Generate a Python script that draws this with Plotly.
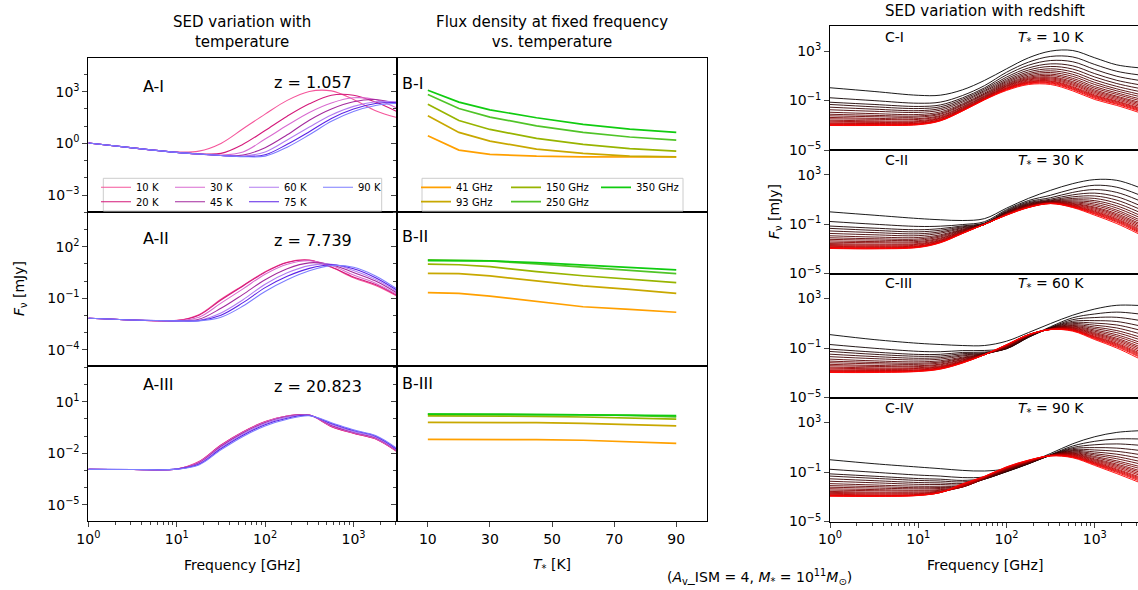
import plotly.graph_objects as go

W, H = 1138, 590
FONT = "DejaVu Sans"

# ---------------- data ----------------
FREQ_GHZ = [1.0, 3.162, 10.0, 17.78, 31.62, 56.23, 100.0, 177.8, 316.2, 562.3, 1000.0, 1778.0, 3090.0]

TEMP_LABELS = ["10 K", "20 K", "30 K", "45 K", "60 K", "75 K", "90 K"]
TEMPS_K = [10, 20, 30, 45, 60, 75, 90]
A_TITLES = ["A-I", "A-II", "A-III"]
A_REDSHIFTS = ["z = 1.057", "z = 7.739", "z = 20.823"]

# log10(F_nu / mJy), one row per temperature, columns follow FREQ_GHZ
A1_LOG_FLUX = [
    [0.02, -0.26, -0.50, -0.45, 0.00, 0.85, 1.70, 2.50, 3.02, 3.05, 2.55, 1.90, 1.50],
    [0.02, -0.26, -0.52, -0.60, -0.58, -0.05, 0.75, 1.58, 2.30, 2.80, 2.80, 2.40, 1.85],
    [0.02, -0.26, -0.52, -0.62, -0.68, -0.50, 0.25, 1.05, 1.80, 2.35, 2.65, 2.55, 2.05],
    [0.02, -0.26, -0.52, -0.62, -0.70, -0.68, -0.25, 0.50, 1.35, 2.00, 2.42, 2.55, 2.30],
    [0.02, -0.26, -0.52, -0.62, -0.70, -0.74, -0.50, 0.20, 0.95, 1.65, 2.15, 2.42, 2.42],
    [0.02, -0.26, -0.52, -0.62, -0.70, -0.76, -0.66, -0.05, 0.68, 1.45, 2.00, 2.32, 2.38],
    [0.02, -0.26, -0.52, -0.62, -0.70, -0.77, -0.74, -0.22, 0.50, 1.28, 1.85, 2.20, 2.33],
]
A2_LOG_FLUX = [
    [-2.16, -2.26, -2.28, -1.95, -1.05, -0.25, 0.55, 1.10, 1.22, 0.80, 0.20, -0.25, -0.86],
    [-2.16, -2.26, -2.29, -1.98, -1.10, -0.28, 0.52, 1.08, 1.21, 0.82, 0.24, -0.20, -0.82],
    [-2.16, -2.26, -2.30, -2.10, -1.28, -0.45, 0.40, 0.98, 1.18, 0.90, 0.35, -0.12, -0.76],
    [-2.16, -2.26, -2.31, -2.22, -1.58, -0.77, 0.08, 0.72, 1.06, 0.95, 0.50, 0.00, -0.68],
    [-2.16, -2.26, -2.31, -2.28, -1.85, -1.08, -0.18, 0.48, 0.90, 0.98, 0.62, 0.10, -0.60],
    [-2.16, -2.26, -2.31, -2.30, -1.98, -1.25, -0.38, 0.28, 0.74, 0.95, 0.72, 0.20, -0.52],
    [-2.16, -2.26, -2.31, -2.31, -2.10, -1.45, -0.60, 0.08, 0.60, 0.90, 0.80, 0.30, -0.45],
]
A3_LOG_FLUX = [
    [-2.93, -2.94, -2.91, -2.48, -1.51, -0.74, -0.16, 0.17, 0.22, -0.45, -0.84, -1.17, -1.90],
    [-2.93, -2.94, -2.91, -2.50, -1.53, -0.76, -0.17, 0.17, 0.22, -0.44, -0.83, -1.16, -1.89],
    [-2.93, -2.94, -2.91, -2.52, -1.56, -0.78, -0.18, 0.16, 0.22, -0.42, -0.81, -1.14, -1.87],
    [-2.93, -2.94, -2.91, -2.56, -1.60, -0.82, -0.22, 0.14, 0.22, -0.38, -0.78, -1.10, -1.84],
    [-2.93, -2.94, -2.92, -2.60, -1.66, -0.88, -0.27, 0.10, 0.21, -0.32, -0.74, -1.06, -1.80],
    [-2.93, -2.94, -2.92, -2.64, -1.73, -0.95, -0.34, 0.04, 0.20, -0.27, -0.68, -1.01, -1.76],
    [-2.93, -2.94, -2.92, -2.68, -1.80, -1.02, -0.41, -0.02, 0.18, -0.22, -0.64, -0.97, -1.71],
]

B_FREQ_LABELS = ["41 GHz", "93 GHz", "150 GHz", "250 GHz", "350 GHz"]
B_TITLES = ["B-I", "B-II", "B-III"]
# log10(F_nu / mJy), one row per frequency, columns follow TEMPS_K
B1_LOG_FLUX = [
    [0.44, -0.39, -0.64, -0.74, -0.78, -0.79, -0.79],
    [1.60, 0.64, 0.13, -0.33, -0.58, -0.74, -0.78],
    [2.28, 1.33, 0.81, 0.29, -0.06, -0.31, -0.45],
    [2.84, 2.03, 1.53, 1.02, 0.64, 0.37, 0.19],
    [3.09, 2.40, 1.95, 1.49, 1.10, 0.83, 0.64],
]
B2_LOG_FLUX = [
    [-0.67, -0.71, -0.87, -1.17, -1.49, -1.64, -1.81],
    [0.45, 0.43, 0.30, -0.01, -0.28, -0.48, -0.71],
    [0.98, 0.95, 0.84, 0.55, 0.31, 0.10, -0.09],
    [1.23, 1.21, 1.17, 1.00, 0.80, 0.60, 0.43],
    [1.19, 1.19, 1.17, 1.07, 0.94, 0.78, 0.65],
]
B3_LOG_FLUX = [
    [-1.19, -1.19, -1.19, -1.21, -1.24, -1.33, -1.42],
    [-0.20, -0.20, -0.20, -0.22, -0.26, -0.34, -0.41],
    [0.17, 0.17, 0.17, 0.15, 0.11, 0.05, -0.02],
    [0.28, 0.28, 0.28, 0.26, 0.24, 0.20, 0.12],
    [0.28, 0.28, 0.27, 0.25, 0.23, 0.21, 0.19],
]

C_TITLES = ["C-I", "C-II", "C-III", "C-IV"]
C_TEMP_TEXT = ["10 K", "30 K", "60 K", "90 K"]
# log10(F_nu / mJy): one row per frequency (FREQ_GHZ), 20 redshift curves per row (low z -> high z)
C1_LOG_FLUX_BY_FREQ = [
    [0.03, -0.78, -1.14, -1.32, -1.54, -1.75, -1.95, -2.11, -2.24, -2.37, -2.48, -2.59, -2.67, -2.75, -2.83, -2.88, -2.93, -2.97, -3.00, -3.02],
    [-0.27, -1.01, -1.32, -1.51, -1.70, -1.87, -2.06, -2.20, -2.31, -2.44, -2.52, -2.64, -2.72, -2.77, -2.86, -2.88, -2.94, -2.97, -3.00, -3.02],
    [-0.58, -1.22, -1.48, -1.65, -1.82, -1.96, -2.13, -2.25, -2.34, -2.46, -2.53, -2.63, -2.70, -2.75, -2.82, -2.84, -2.89, -2.91, -2.94, -2.96],
    [-0.57, -1.13, -1.36, -1.51, -1.65, -1.78, -1.92, -2.03, -2.11, -2.21, -2.28, -2.36, -2.42, -2.46, -2.53, -2.55, -2.59, -2.61, -2.63, -2.65],
    [-0.14, -0.60, -0.79, -0.91, -1.03, -1.14, -1.26, -1.34, -1.41, -1.50, -1.55, -1.62, -1.67, -1.71, -1.76, -1.77, -1.81, -1.83, -1.84, -1.86],
    [0.62, 0.20, 0.02, -0.09, -0.20, -0.29, -0.40, -0.48, -0.54, -0.62, -0.67, -0.73, -0.78, -0.81, -0.86, -0.87, -0.90, -0.92, -0.93, -0.95],
    [1.56, 1.28, 1.07, 0.89, 0.75, 0.63, 0.53, 0.44, 0.35, 0.28, 0.21, 0.16, 0.11, 0.05, 0.00, -0.03, -0.07, -0.10, -0.14, -0.19],
    [2.45, 2.10, 1.85, 1.63, 1.46, 1.31, 1.18, 1.07, 0.96, 0.87, 0.79, 0.72, 0.66, 0.59, 0.53, 0.48, 0.44, 0.40, 0.35, 0.29],
    [2.99, 2.56, 2.23, 1.96, 1.75, 1.56, 1.40, 1.26, 1.13, 1.02, 0.91, 0.83, 0.75, 0.67, 0.59, 0.54, 0.48, 0.43, 0.37, 0.29],
    [3.04, 2.52, 2.13, 1.80, 1.54, 1.31, 1.12, 0.95, 0.79, 0.66, 0.53, 0.43, 0.33, 0.24, 0.14, 0.07, 0.01, -0.06, -0.12, -0.22],
    [2.45, 1.91, 1.51, 1.17, 0.90, 0.66, 0.46, 0.29, 0.12, -0.01, -0.14, -0.25, -0.35, -0.45, -0.55, -0.62, -0.68, -0.75, -0.82, -0.92],
    [1.88, 1.36, 0.96, 0.63, 0.37, 0.14, -0.06, -0.22, -0.38, -0.51, -0.65, -0.74, -0.84, -0.94, -1.04, -1.10, -1.17, -1.24, -1.30, -1.40],
    [1.65, 1.08, 0.64, 0.29, 0.00, -0.25, -0.47, -0.65, -0.83, -0.97, -1.11, -1.22, -1.33, -1.44, -1.55, -1.62, -1.69, -1.76, -1.83, -1.94],
]
C2_LOG_FLUX_BY_FREQ = [
    [0.00, -0.78, -1.15, -1.34, -1.55, -1.75, -1.94, -2.10, -2.23, -2.35, -2.46, -2.57, -2.65, -2.73, -2.80, -2.85, -2.89, -2.93, -2.95, -2.97],
    [-0.27, -1.00, -1.32, -1.50, -1.68, -1.86, -2.04, -2.18, -2.29, -2.41, -2.50, -2.61, -2.68, -2.75, -2.82, -2.87, -2.91, -2.95, -2.98, -3.00],
    [-0.54, -1.18, -1.45, -1.62, -1.78, -1.93, -2.08, -2.20, -2.30, -2.40, -2.48, -2.57, -2.63, -2.69, -2.75, -2.79, -2.82, -2.85, -2.87, -2.89],
    [-0.64, -1.16, -1.36, -1.49, -1.62, -1.73, -1.86, -1.95, -2.03, -2.12, -2.18, -2.25, -2.31, -2.34, -2.40, -2.42, -2.45, -2.47, -2.49, -2.51],
    [-0.70, -1.03, -1.14, -1.21, -1.28, -1.34, -1.41, -1.46, -1.50, -1.55, -1.58, -1.62, -1.65, -1.67, -1.70, -1.71, -1.73, -1.74, -1.75, -1.76],
    [-0.55, -0.80, -0.90, -0.95, -0.98, -1.00, -1.01, -1.02, -1.02, -1.02, -1.02, -1.02, -1.01, -1.01, -1.01, -1.00, -1.00, -1.00, -1.00, -1.00],
    [0.30, 0.18, 0.10, 0.04, -0.01, -0.05, -0.08, -0.11, -0.13, -0.15, -0.17, -0.19, -0.20, -0.21, -0.22, -0.23, -0.24, -0.25, -0.26, -0.27],
    [1.10, 0.92, 0.82, 0.74, 0.68, 0.63, 0.59, 0.55, 0.52, 0.49, 0.47, 0.45, 0.43, 0.41, 0.40, 0.39, 0.38, 0.37, 0.36, 0.35],
    [1.75, 1.35, 1.15, 1.03, 0.95, 0.90, 0.86, 0.83, 0.80, 0.78, 0.76, 0.74, 0.73, 0.72, 0.71, 0.70, 0.69, 0.68, 0.68, 0.67],
    [2.29, 1.85, 1.58, 1.38, 1.22, 1.09, 0.98, 0.89, 0.81, 0.74, 0.68, 0.63, 0.58, 0.54, 0.50, 0.47, 0.44, 0.41, 0.38, 0.35],
    [2.62, 2.16, 1.81, 1.52, 1.29, 1.09, 0.91, 0.77, 0.63, 0.51, 0.39, 0.31, 0.22, 0.13, 0.05, -0.01, -0.07, -0.13, -0.18, -0.27],
    [2.56, 2.00, 1.58, 1.23, 0.95, 0.70, 0.49, 0.31, 0.14, 0.00, -0.14, -0.25, -0.35, -0.46, -0.56, -0.63, -0.70, -0.77, -0.84, -0.95],
    [2.02, 1.42, 0.96, 0.58, 0.28, 0.02, -0.21, -0.40, -0.59, -0.74, -0.89, -1.00, -1.12, -1.23, -1.34, -1.42, -1.50, -1.57, -1.65, -1.76],
]
C3_LOG_FLUX_BY_FREQ = [
    [0.08, -0.72, -1.09, -1.28, -1.50, -1.70, -1.90, -2.06, -2.19, -2.32, -2.43, -2.54, -2.62, -2.70, -2.78, -2.83, -2.88, -2.92, -2.95, -2.98],
    [-0.32, -1.02, -1.33, -1.51, -1.69, -1.86, -2.04, -2.17, -2.28, -2.41, -2.49, -2.60, -2.68, -2.73, -2.82, -2.85, -2.90, -2.93, -2.96, -2.98],
    [-0.62, -1.27, -1.52, -1.67, -1.83, -1.97, -2.12, -2.23, -2.32, -2.43, -2.50, -2.59, -2.65, -2.70, -2.77, -2.79, -2.84, -2.86, -2.88, -2.90],
    [-0.72, -1.30, -1.51, -1.65, -1.78, -1.90, -2.03, -2.13, -2.21, -2.30, -2.36, -2.44, -2.50, -2.54, -2.59, -2.61, -2.65, -2.67, -2.69, -2.71],
    [-0.80, -1.21, -1.36, -1.46, -1.56, -1.64, -1.74, -1.81, -1.86, -1.93, -1.97, -2.03, -2.07, -2.10, -2.14, -2.15, -2.18, -2.19, -2.21, -2.22],
    [-0.80, -1.20, -1.33, -1.39, -1.43, -1.46, -1.48, -1.50, -1.51, -1.52, -1.53, -1.53, -1.54, -1.54, -1.54, -1.54, -1.54, -1.54, -1.54, -1.54],
    [-0.45, -1.00, -1.06, -1.06, -1.04, -1.01, -0.98, -0.95, -0.92, -0.89, -0.86, -0.84, -0.82, -0.80, -0.78, -0.77, -0.76, -0.75, -0.74, -0.73],
    [0.25, -0.10, -0.14, -0.13, -0.10, -0.07, -0.04, -0.02, 0.00, 0.02, 0.03, 0.04, 0.05, 0.06, 0.07, 0.07, 0.08, 0.08, 0.08, 0.08],
    [0.98, 0.72, 0.66, 0.63, 0.61, 0.59, 0.57, 0.56, 0.55, 0.54, 0.53, 0.52, 0.52, 0.51, 0.51, 0.50, 0.50, 0.50, 0.49, 0.49],
    [1.65, 1.44, 1.29, 1.16, 1.06, 0.97, 0.89, 0.82, 0.76, 0.71, 0.66, 0.62, 0.58, 0.54, 0.50, 0.48, 0.45, 0.42, 0.40, 0.36],
    [2.15, 1.75, 1.46, 1.21, 1.01, 0.84, 0.69, 0.57, 0.45, 0.35, 0.25, 0.17, 0.10, 0.03, -0.05, -0.10, -0.15, -0.20, -0.25, -0.32],
    [2.45, 1.90, 1.48, 1.14, 0.86, 0.62, 0.41, 0.24, 0.07, -0.07, -0.21, -0.31, -0.41, -0.52, -0.62, -0.69, -0.76, -0.83, -0.90, -1.00],
    [2.44, 1.76, 1.25, 0.82, 0.48, 0.19, -0.07, -0.28, -0.49, -0.66, -0.83, -0.96, -1.09, -1.22, -1.34, -1.43, -1.51, -1.60, -1.68, -1.81],
]
C4_LOG_FLUX_BY_FREQ = [
    [-0.01, -0.78, -1.15, -1.33, -1.55, -1.75, -1.94, -2.10, -2.23, -2.35, -2.46, -2.57, -2.65, -2.73, -2.80, -2.85, -2.89, -2.92, -2.94, -2.95],
    [-0.33, -1.02, -1.34, -1.51, -1.70, -1.87, -2.05, -2.18, -2.30, -2.42, -2.51, -2.62, -2.69, -2.76, -2.84, -2.88, -2.92, -2.95, -2.96, -2.97],
    [-0.60, -1.25, -1.53, -1.68, -1.85, -2.00, -2.15, -2.27, -2.36, -2.47, -2.54, -2.63, -2.70, -2.75, -2.81, -2.84, -2.87, -2.88, -2.89, -2.90],
    [-0.73, -1.33, -1.58, -1.73, -1.88, -2.01, -2.15, -2.25, -2.33, -2.42, -2.48, -2.54, -2.58, -2.61, -2.64, -2.65, -2.66, -2.66, -2.66, -2.65],
    [-0.87, -1.45, -1.68, -1.80, -1.93, -2.03, -2.12, -2.17, -2.20, -2.22, -2.22, -2.21, -2.19, -2.16, -2.12, -2.08, -2.05, -2.01, -1.98, -1.95],
    [-0.92, -1.40, -1.52, -1.56, -1.58, -1.58, -1.57, -1.55, -1.53, -1.51, -1.49, -1.47, -1.45, -1.43, -1.41, -1.40, -1.39, -1.38, -1.36, -1.35],
    [-0.74, -0.95, -0.98, -0.97, -0.95, -0.92, -0.89, -0.86, -0.83, -0.80, -0.77, -0.74, -0.72, -0.70, -0.68, -0.66, -0.64, -0.62, -0.60, -0.58],
    [-0.22, -0.32, -0.34, -0.33, -0.31, -0.29, -0.27, -0.25, -0.23, -0.21, -0.19, -0.17, -0.15, -0.13, -0.11, -0.10, -0.08, -0.07, -0.05, -0.04],
    [0.50, 0.40, 0.37, 0.36, 0.35, 0.35, 0.35, 0.35, 0.35, 0.35, 0.35, 0.34, 0.34, 0.33, 0.33, 0.32, 0.32, 0.31, 0.31, 0.30],
    [1.28, 1.10, 0.98, 0.89, 0.81, 0.74, 0.68, 0.62, 0.57, 0.52, 0.48, 0.44, 0.40, 0.36, 0.32, 0.28, 0.25, 0.22, 0.19, 0.15],
    [1.85, 1.48, 1.20, 0.97, 0.78, 0.62, 0.48, 0.37, 0.25, 0.16, 0.06, -0.01, -0.08, -0.15, -0.21, -0.26, -0.31, -0.35, -0.40, -0.47],
    [2.20, 1.67, 1.27, 0.93, 0.67, 0.44, 0.24, 0.07, -0.10, -0.23, -0.36, -0.46, -0.56, -0.66, -0.76, -0.83, -0.90, -0.96, -1.03, -1.13],
    [2.33, 1.67, 1.17, 0.76, 0.43, 0.14, -0.11, -0.31, -0.52, -0.68, -0.85, -0.97, -1.10, -1.22, -1.35, -1.43, -1.51, -1.59, -1.68, -1.80],
]

# ---------------- styles ----------------
A_COLORS = ['#f5569b', '#d4197a', '#d96bd0', '#a32a9e', '#b27cf0', '#5b22e6', '#7d7dff']
B_COLORS = ['#ffa000', '#c8a800', '#98b400', '#50c428', '#10cc10']


def xp(p):
    return p / W


def yp(p):
    return 1 - p / H


def pow_label(e):
    return "10<sup>" + ("\u2212" if e < 0 else "") + str(abs(e)) + "</sup>"


# panel boxes in pixels: left, right, top, bottom
BOX = {
    1: (88.4, 396.8, 57.7, 211.7), 2: (88.4, 396.8, 211.7, 366.0), 3: (88.4, 396.8, 366.0, 521.0),
    4: (396.8, 707.3, 57.7, 211.7), 5: (396.8, 707.3, 211.7, 366.0), 6: (396.8, 707.3, 366.0, 521.0),
    7: (830.0, 1138.0, 26.0, 150.0), 8: (830.0, 1138.0, 150.0, 273.5),
    9: (830.0, 1138.0, 273.5, 397.5), 10: (830.0, 1138.0, 397.5, 521.5),
}
ROW_RANGE = [[-3.97, 4.98], [-4.93, 4.03], [-5.93, 3.07]]
ROW_MAJOR = [[-3, 0, 3], [-4, -1, 2], [-5, -2, 1]]
C_RANGE = [-5.0, 5.02]
C_MAJOR = [-5, -1, 3]

fig = go.Figure()


def ax(n, kind):
    return kind if n == 1 else kind + str(n)


# ---- A panels
A_DATA = [A1_LOG_FLUX, A2_LOG_FLUX, A3_LOG_FLUX]
A_LEGEND_SLOT = ['legend', 'legend3', 'legend', 'legend3', 'legend', 'legend3', 'legend']
for r, data in enumerate(A_DATA):
    n = r + 1
    for i, row in enumerate(data):
        fig.add_trace(go.Scatter(
            x=FREQ_GHZ, y=[10 ** v for v in row], mode='lines',
            line=dict(color=A_COLORS[i], width=1.1, shape='spline', smoothing=1.0),
            name=TEMP_LABELS[i], showlegend=(r == 0), legend=A_LEGEND_SLOT[i],
            xaxis=ax(n, 'x'), yaxis=ax(n, 'y')))

# ---- B panels
B_DATA = [B1_LOG_FLUX, B2_LOG_FLUX, B3_LOG_FLUX]
B_LEGEND_SLOT = ['legend2', 'legend4', 'legend2', 'legend4', 'legend2']
for r, data in enumerate(B_DATA):
    n = r + 4
    for i, row in enumerate(data):
        fig.add_trace(go.Scatter(
            x=TEMPS_K, y=[10 ** v for v in row], mode='lines',
            line=dict(color=B_COLORS[i], width=1.7),
            name=B_FREQ_LABELS[i], showlegend=(r == 0), legend=B_LEGEND_SLOT[i],
            xaxis=ax(n, 'x'), yaxis=ax(n, 'y')))

# ---- C panels
C_DATA = [C1_LOG_FLUX_BY_FREQ, C2_LOG_FLUX_BY_FREQ, C3_LOG_FLUX_BY_FREQ, C4_LOG_FLUX_BY_FREQ]
for p, cols in enumerate(C_DATA):
    n = p + 7
    curves = list(zip(*cols))
    for k, row in enumerate(curves):
        red = round(255 * k / (len(curves) - 1))
        fig.add_trace(go.Scatter(
            x=FREQ_GHZ, y=[10 ** v for v in row], mode='lines',
            line=dict(color='rgb(%d,0,0)' % red, width=0.9, shape='spline', smoothing=1.0),
            showlegend=False, xaxis=ax(n, 'x'), yaxis=ax(n, 'y')))

# ---------------- axes ----------------
tickfont = dict(family=FONT, size=14, color='black')
freq_major = [1, 10, 100, 1000]
freq_minor = [m * d for d in (1, 10, 100) for m in range(2, 10)] + [2000, 3000]

layout = {}
for n, (l, rgt, t, b) in BOX.items():
    xa = dict(domain=[xp(l), xp(rgt)], anchor=ax(n, 'y'), showline=True, mirror=True,
              linecolor='black', linewidth=1, showgrid=False, zeroline=False, automargin=False,
              tickfont=tickfont, ticks='', showticklabels=False)
    ya = dict(domain=[yp(b), yp(t)], anchor=ax(n, 'x'), showline=True, mirror=True,
              linecolor='black', linewidth=1, showgrid=False, zeroline=False, automargin=False,
              tickfont=tickfont, type='log')
    if n in (4, 5, 6):
        xa.update(type='linear', range=[0, 100])
    else:
        xa.update(type='log', range=[0, 3.49])
    if n in (3, 10):
        xa.update(ticks='outside', ticklen=5, tickwidth=1, showticklabels=True,
                  tickmode='array', tickvals=freq_major,
                  ticktext=[pow_label(e) for e in range(4)],
                  minor=dict(ticks='outside', ticklen=3, tickwidth=0.8, tickmode='array',
                             tickvals=freq_minor))
    if n == 6:
        xa.update(ticks='outside', ticklen=5, tickwidth=1, showticklabels=True,
                  tickmode='array', tickvals=[10, 30, 50, 70, 90],
                  ticktext=['10', '30', '50', '70', '90'])
    if n <= 6:
        r = (n - 1) % 3
        lo, hi = ROW_RANGE[r]
        majors = ROW_MAJOR[r]
        minors = [e for e in range(int(lo) - 1, int(hi) + 1) if lo <= e <= hi and e not in majors]
        ya.update(range=[lo, hi], ticks='outside', ticklen=5, tickwidth=1,
                  tickmode='array', tickvals=[10.0 ** e for e in majors],
                  ticktext=[pow_label(e) for e in majors], showticklabels=(n <= 3),
                  minor=dict(ticks='outside', ticklen=3, tickwidth=0.8, tickmode='array',
                             tickvals=[10.0 ** e for e in minors]))
    else:
        ya.update(range=C_RANGE, ticks='outside', ticklen=5, tickwidth=1,
                  tickmode='array', tickvals=[10.0 ** e for e in C_MAJOR],
                  ticktext=[pow_label(e) for e in C_MAJOR], showticklabels=True)
    layout[ax(n, 'xaxis')] = xa
    layout[ax(n, 'yaxis')] = ya

# ---------------- annotations ----------------
ann = []


def text(x, y, s, size, xanchor='center', yanchor='middle', angle=0):
    ann.append(dict(x=xp(x), y=yp(y), xref='paper', yref='paper', text=s, showarrow=False,
                    xanchor=xanchor, yanchor=yanchor, textangle=angle,
                    font=dict(family=FONT, size=size, color='black')))


text(242, 32, "SED variation with<br>temperature", 15)
text(552, 32, "Flux density at fixed frequency<br>vs. temperature", 15)
text(985, 11, "SED variation with redshift", 15)

A_TEXT_Y = [86, 239, 384]
A_Z_Y = [82, 240, 386]
for r in range(3):
    text(141, A_TEXT_Y[r], A_TITLES[r], 16, xanchor='left')
    text(272, A_Z_Y[r], A_REDSHIFTS[r], 16, xanchor='left')
B_TEXT_Y = [83, 236, 383]
for r in range(3):
    text(400, B_TEXT_Y[r], B_TITLES[r], 16, xanchor='left')
C_TEXT_Y = [37, 160, 283, 408]
for p in range(4):
    text(883, C_TEXT_Y[p], C_TITLES[p], 14, xanchor='left')
    text(1016, C_TEXT_Y[p] + 1, "<i>T</i><sub>*</sub> = " + C_TEMP_TEXT[p], 14, xanchor='left')

text(242, 565, "Frequency [GHz]", 14)
text(552, 565, "<i>T</i><sub>*</sub> [K]", 14)
text(985, 565, "Frequency [GHz]", 14)
text(20, 289, "<i>F</i><sub>\u03bd</sub> [mJy]", 14, angle=-90)
text(775, 212, "<i>F</i><sub>\u03bd</sub> [mJy]", 14, angle=-90)
text(759, 577, "(<i>A</i><sub>v</sub>_ISM = 4, <i>M</i><sub>*</sub> = 10<sup>11</sup><i>M</i><sub>\u2299</sub>)", 14)

# legend frames
shapes = [
    dict(type='rect', xref='paper', yref='paper', x0=xp(103.3), x1=xp(381.7), y0=yp(211.0), y1=yp(178.3),
         line=dict(color='#cccccc', width=1), fillcolor='rgba(255,255,255,0.8)', layer='above'),
    dict(type='rect', xref='paper', yref='paper', x0=xp(422.0), x1=xp(683.0), y0=yp(211.0), y1=yp(178.3),
         line=dict(color='#cccccc', width=1), fillcolor='rgba(255,255,255,0.8)', layer='above'),
]

leg_common = dict(orientation='h', bgcolor='rgba(0,0,0,0)', borderwidth=0, xanchor='left',
                  yanchor='middle', itemwidth=30, tracegroupgap=0,
                  font=dict(family=FONT, size=10, color='black'))

fig.update_layout(
    width=W, height=H, margin=dict(l=0, r=0, t=0, b=0, pad=0, autoexpand=False),
    plot_bgcolor='white', paper_bgcolor='white', showlegend=True,
    font=dict(family=FONT, size=14, color='black'),
    annotations=ann, shapes=shapes,
    legend=dict(leg_common, x=xp(96), y=yp(187.3), entrywidth=29),
    legend3=dict(leg_common, x=xp(96), y=yp(201.7), entrywidth=29),
    legend2=dict(leg_common, x=xp(416), y=yp(187.3), entrywidth=45),
    legend4=dict(leg_common, x=xp(416), y=yp(201.7), entrywidth=45),
    **layout,
)

fig.write_html("out.html", config={'displayModeBar': False},
               post_script="document.body.style.margin='0px';")
